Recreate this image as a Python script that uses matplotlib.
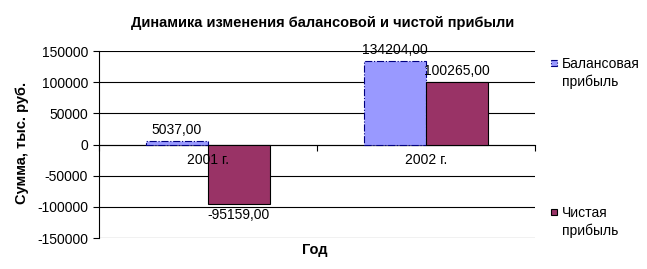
import numpy as np
import matplotlib.pyplot as plt
from matplotlib.patches import Rectangle

plt.rcParams['font.family'] = ['Liberation Sans', 'DejaVu Sans']

# data
years = ['2001 г.', '2002 г.']
balance_profit = [5037.00, 134204.00]
net_profit = [-95159.00, 100265.00]
series_names = ['Балансовая\nприбыль', 'Чистая\nприбыль']
yticks = [-150000, -100000, -50000, 0, 50000, 100000, 150000]

fig = plt.figure(figsize=(6.47, 2.69), dpi=100)
ax = fig.add_axes([0.153, 0.115, 0.674, 0.695])

x = np.arange(len(years))
w = 0.284
b1 = ax.bar(x - w / 2, balance_profit, w, color='#9999ff', edgecolor='#000080',
            linestyle='-.', linewidth=0.8, zorder=3)
b2 = ax.bar(x + w / 2, net_profit, w, color='#993366', edgecolor='black',
            linewidth=0.8, zorder=3)

fmt = lambda v: f'{v:.2f}'.replace('.', ',')
ax.bar_label(b1, labels=[fmt(v) for v in balance_profit], padding=3, fontsize=10)
ax.bar_label(b2, labels=[fmt(v) for v in net_profit], padding=3, fontsize=10)

ax.set_xlim(-0.5, 1.5)
ax.set_ylim(-150000, 150000)
ax.set_yticks(yticks)
ax.set_yticklabels([str(t) for t in yticks], fontsize=10)
ax.yaxis.grid(True, color='black', linewidth=0.8)
ax.set_axisbelow(True)

ax.spines['top'].set_visible(False)
ax.spines['right'].set_visible(False)
ax.spines['bottom'].set_position(('data', 0))
ax.spines['left'].set_linewidth(0.8)
ax.spines['bottom'].set_linewidth(0.8)

ax.set_xticks(x)
ax.set_xticklabels(years, fontsize=10)
ax.set_xticks([-0.5, 0.5, 1.5], minor=True)
ax.tick_params(axis='x', which='major', length=0, pad=6)
ax.tick_params(axis='x', which='minor', length=4, width=0.8)
ax.tick_params(axis='y', length=4, width=0.8, pad=4)
ax.xaxis.set_zorder(4)

fig.text(0.498, 0.915, 'Динамика изменения балансовой и чистой прибыли',
         ha='center', va='center', fontsize=10.5, fontweight='bold')
fig.text(0.034, 0.47, 'Сумма, тыс. руб.', rotation=90, ha='center', va='center',
         fontsize=10.5, fontweight='bold')
fig.text(0.487, 0.07, 'Год', ha='center', va='center', fontsize=10.5, fontweight='bold')

# legend, drawn by hand so the marker sits at the first text line
styles = [dict(facecolor='#9999ff', edgecolor='#000080', linestyle='-.'),
          dict(facecolor='#993366', edgecolor='black', linestyle='-')]
for name, st, ty, my in zip(series_names, styles, [0.788, 0.234], [0.7546, 0.2007]):
    fig.patches.append(Rectangle((0.8516, my), 0.0093, 0.0223, transform=fig.transFigure,
                                 linewidth=0.8, **st))
    fig.text(0.8686, ty, name, ha='left', va='top', fontsize=10, linespacing=1.3)

fig.savefig('out.png', dpi=100)
